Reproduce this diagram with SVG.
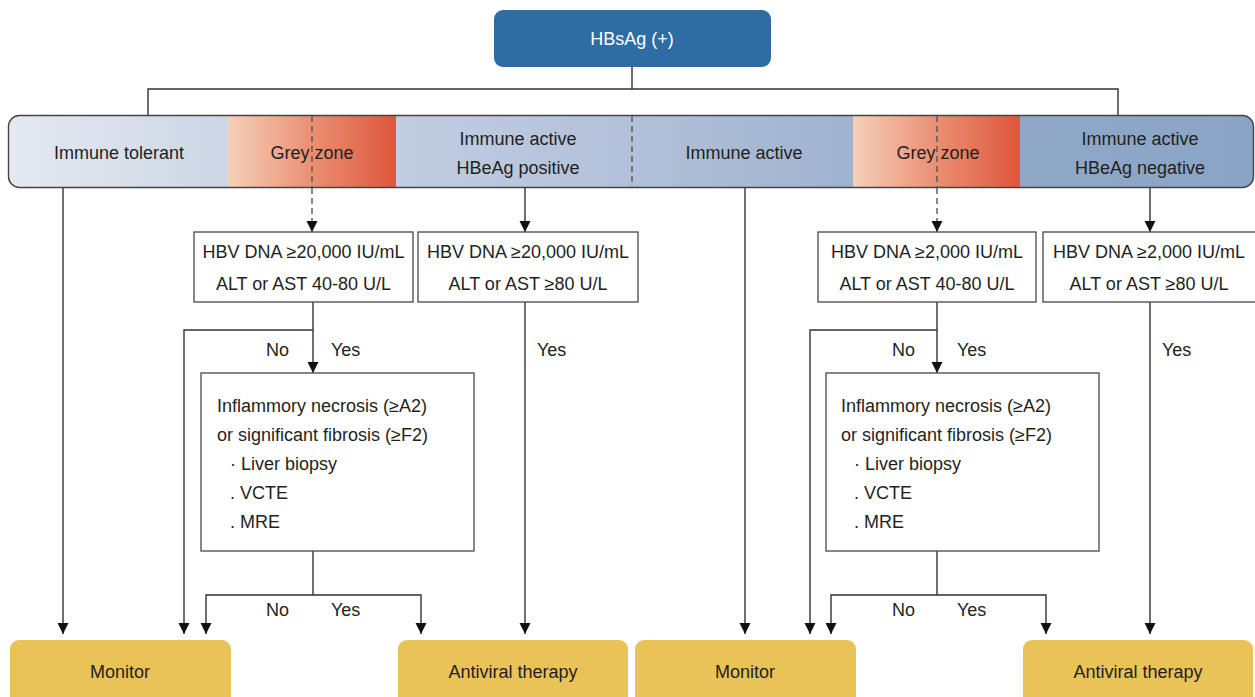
<svg xmlns="http://www.w3.org/2000/svg" width="1255" height="697" viewBox="0 0 1255 697">
<defs>
<style>
text{font-family:"Liberation Sans",Arial,sans-serif;font-size:18px;fill:#231f20}
.c{text-anchor:middle}
.ln{fill:none;stroke:#333;stroke-width:1.4}
.arr{fill:none;stroke:#333;stroke-width:1.4;marker-end:url(#ah)}
.dash{fill:none;stroke:#555;stroke-width:1.4;stroke-dasharray:6 4}
.box{fill:#fff;stroke:#555;stroke-width:1.4}
.out{fill:#e9c258}
</style>
<marker id="ah" markerUnits="userSpaceOnUse" markerWidth="11" markerHeight="12" refX="10" refY="5" orient="auto" viewBox="0 0 10 10">
<path d="M0,0 L10,5 L0,10 z" fill="#111"/>
</marker>
<linearGradient id="gTol" x1="0" x2="1" y1="0" y2="0"><stop offset="0" stop-color="#e5eaf2"/><stop offset="1" stop-color="#ccd6e5"/></linearGradient>
<linearGradient id="gGrey" x1="0" x2="1" y1="0" y2="0"><stop offset="0" stop-color="#f6d0ba"/><stop offset="0.5" stop-color="#eb8f72"/><stop offset="1" stop-color="#df563c"/></linearGradient>
<linearGradient id="gPos" x1="0" x2="1" y1="0" y2="0"><stop offset="0" stop-color="#c1cde1"/><stop offset="1" stop-color="#b2c1d9"/></linearGradient>
<linearGradient id="gAct" x1="0" x2="1" y1="0" y2="0"><stop offset="0" stop-color="#b2c1d9"/><stop offset="1" stop-color="#9fb2cf"/></linearGradient>
<linearGradient id="gNeg" x1="0" x2="1" y1="0" y2="0"><stop offset="0" stop-color="#8fa8c8"/><stop offset="1" stop-color="#8aa4c6"/></linearGradient>
<clipPath id="bandClip"><rect x="8.5" y="115.5" width="1245" height="72" rx="11"/></clipPath>
</defs>

<g id="connectors">
<path class="ln" d="M632 67 V89 M148 115 V89 H1118 V115"/>
<path class="dash" d="M312 188 V226"/>
<path class="dash" d="M937 188 V226"/>
<path class="arr" d="M312 222 V232"/>
<path class="arr" d="M937 222 V232"/>
<path class="arr" d="M525 188 V232"/>
<path class="arr" d="M1150 188 V232"/>
<path class="arr" d="M63 188 V634"/>
<path class="arr" d="M745 188 V634"/>
<path class="arr" d="M313 302 V373"/>
<path class="arr" d="M313 330 H184 V634"/>
<path class="ln" d="M313 551 V595"/>
<path class="arr" d="M313 595 H206 V634"/>
<path class="arr" d="M313 595 H421 V634"/>
<path class="arr" d="M525 302 V634"/>
<path class="arr" d="M937 302 V373"/>
<path class="arr" d="M937 330 H810 V634"/>
<path class="ln" d="M937 551 V595"/>
<path class="arr" d="M937 595 H831 V634"/>
<path class="arr" d="M937 595 H1046 V634"/>
<path class="arr" d="M1150 302 V634"/>
<text x="266" y="356">No</text>
<text x="331" y="356">Yes</text>
<text x="537" y="356">Yes</text>
<text x="266" y="616">No</text>
<text x="331" y="616">Yes</text>
<text x="892" y="356">No</text>
<text x="957" y="356">Yes</text>
<text x="1162" y="356">Yes</text>
<text x="892" y="616">No</text>
<text x="957" y="616">Yes</text>
</g>

<g id="hbsag">
<rect x="494" y="10" width="277" height="57" rx="9" fill="#2e6da4"/>
<text class="c" x="632" y="45" style="fill:#fff">HBsAg (+)</text>
</g>

<g id="band">
<g clip-path="url(#bandClip)">
<rect x="8" y="115" width="220" height="73" fill="url(#gTol)"/>
<rect x="228" y="115" width="168" height="73" fill="url(#gGrey)"/>
<rect x="396" y="115" width="236" height="73" fill="url(#gPos)"/>
<rect x="632" y="115" width="221" height="73" fill="url(#gAct)"/>
<rect x="853" y="115" width="167" height="73" fill="url(#gGrey)"/>
<rect x="1020" y="115" width="235" height="73" fill="url(#gNeg)"/>
</g>
<rect x="8.5" y="115.5" width="1245" height="72" rx="11" fill="none" stroke="#444" stroke-width="1.4"/>
<path class="dash" d="M312 116 V188 M632 116 V188 M937 116 V188"/>
</g>
<g id="phase-tolerant"><text class="c" x="119" y="159">Immune tolerant</text></g>
<g id="phase-grey1"><text class="c" x="312" y="159">Grey zone</text></g>
<g id="phase-pos"><text class="c" x="518" y="145">Immune active</text><text class="c" x="518" y="174">HBeAg positive</text></g>
<g id="phase-active"><text class="c" x="744" y="159">Immune active</text></g>
<g id="phase-grey2"><text class="c" x="938" y="159">Grey zone</text></g>
<g id="phase-neg"><text class="c" x="1140" y="145">Immune active</text><text class="c" x="1140" y="174">HBeAg negative</text></g>

<g id="crit1">
<rect class="box" x="194" y="232" width="219" height="70"/>
<text class="c" x="303.5" y="258">HBV DNA ≥20,000 IU/mL</text>
<text class="c" x="303.5" y="290">ALT or AST 40-80 U/L</text>
</g>
<g id="crit2">
<rect class="box" x="418" y="232" width="220" height="70"/>
<text class="c" x="528" y="258">HBV DNA ≥20,000 IU/mL</text>
<text class="c" x="528" y="290">ALT or AST ≥80 U/L</text>
</g>
<g id="crit3">
<rect class="box" x="818" y="232" width="218" height="70"/>
<text class="c" x="927" y="258">HBV DNA ≥2,000 IU/mL</text>
<text class="c" x="927" y="290">ALT or AST 40-80 U/L</text>
</g>
<g id="crit4">
<rect class="box" x="1043" y="232" width="213" height="70"/>
<text class="c" x="1149" y="258">HBV DNA ≥2,000 IU/mL</text>
<text class="c" x="1149" y="290">ALT or AST ≥80 U/L</text>
</g>

<g id="fib1">
<rect class="box" x="201" y="373" width="273" height="178"/>
<text x="217" y="412">Inflammory necrosis (≥A2)</text>
<text x="217" y="441">or significant fibrosis (≥F2)</text>
<text x="230" y="470">· Liver biopsy</text>
<text x="230" y="499">. VCTE</text>
<text x="230" y="528">. MRE</text>
</g>
<g id="fib2">
<rect class="box" x="826" y="373" width="273" height="178"/>
<text x="841" y="412">Inflammory necrosis (≥A2)</text>
<text x="841" y="441">or significant fibrosis (≥F2)</text>
<text x="854" y="470">· Liver biopsy</text>
<text x="854" y="499">. VCTE</text>
<text x="854" y="528">. MRE</text>
</g>

<g id="monitor1"><rect class="out" x="10" y="640" width="221" height="70" rx="9"/><text class="c" x="120" y="678">Monitor</text></g>
<g id="antiviral1"><rect class="out" x="398" y="640" width="230" height="70" rx="9"/><text class="c" x="513" y="678">Antiviral therapy</text></g>
<g id="monitor2"><rect class="out" x="635" y="640" width="221" height="70" rx="9"/><text class="c" x="745" y="678">Monitor</text></g>
<g id="antiviral2"><rect class="out" x="1023" y="640" width="230" height="70" rx="9"/><text class="c" x="1138" y="678">Antiviral therapy</text></g>
</svg>
